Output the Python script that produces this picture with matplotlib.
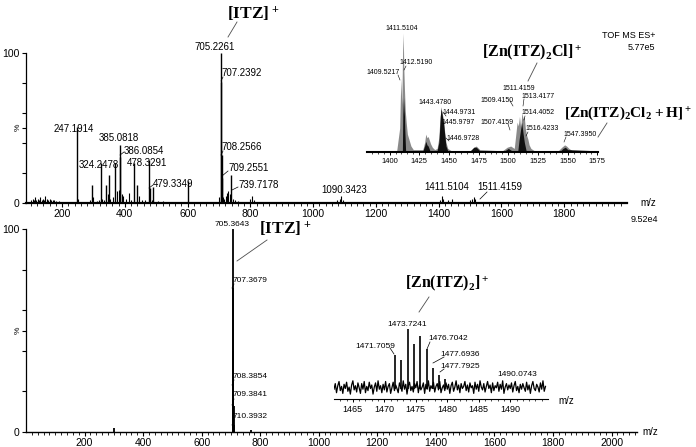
import numpy as np
import matplotlib
matplotlib.use('Agg')
import matplotlib.pyplot as plt
from matplotlib.lines import Line2D

plt.rcParams['font.family'] = ['Liberation Sans', 'DejaVu Sans']
plt.rcParams['mathtext.fontset'] = 'custom'
plt.rcParams['mathtext.rm'] = 'Liberation Serif'
plt.rcParams['mathtext.bf'] = 'Liberation Serif:bold'

# ---- top spectrum (sticks, m/z and % intensity)
top_mz = [247.19, 296, 324.25, 340, 350, 367, 385.08, 386.09, 430, 440, 478.33, 479.33,
          491, 600, 705.23, 707.24, 708.26, 709.26, 739.72]
top_int = [51, 12, 27, 12, 19, 27, 39, 31, 27, 12, 29, 10, 11, 15, 100, 81, 32, 17, 19]
grass_mz = [102, 106, 110, 114, 118, 122, 127, 131, 135, 139, 143, 147, 151, 155, 160, 165,
            170, 175, 182, 190, 198, 206, 214, 222, 230, 238, 250, 256, 262, 270, 280, 290,
            300, 310, 318, 328, 334, 345, 352, 362, 375, 380, 390, 395, 405, 412, 420, 445,
            455, 465, 485, 505, 520, 540, 560, 580, 610, 640, 660, 690, 700, 712, 716, 722,
            726, 730, 734, 744, 750, 760, 780, 800, 805, 812, 830, 860, 900, 950, 1000, 1050,
            1075, 1085, 1090, 1095, 1110, 1150, 1200, 1250, 1300, 1350, 1405, 1411, 1415,
            1430, 1443, 1450, 1500, 1507, 1511, 1515, 1520, 1550, 1600, 1650, 1700, 1790,
            1850, 1900, 1950]
grass_int = [2, 3, 2, 4, 2, 3, 2, 4, 2, 3, 2, 5, 3, 2, 3, 2,
             2, 2, 1.5, 1.5, 1, 1, 1, 1, 1, 1, 3, 1, 1, 1, 1, 2,
             4, 1.5, 2, 3, 2, 6, 3, 4, 8, 9, 6, 5, 3, 7, 2, 5,
             2, 2, 2, 1.5, 1.5, 1, 1, 1, 1, 1, 1, 1, 4, 4, 3, 5,
             7, 8, 6, 3, 2, 1.5, 1, 3, 5, 2, 1, 1, 1, 1, 1, 1,
             2, 3, 5, 2, 1, 1, 1, 1, 1, 1, 2, 5, 3,
             2, 3, 1, 2, 3, 4, 3, 1, 1, 1, 1, 1, 1,
             1, 1, 1]

# ---- top inset profile (gray = measured, black = second trace)
gray_mz = [1381, 1406, 1408.5, 1409.5, 1410.3, 1411.0, 1411.5, 1412.0, 1412.5, 1413.2,
           1414, 1415, 1416.5, 1418, 1420, 1428, 1429.5, 1430.5, 1431.5, 1432.5,
           1433.5, 1434.5, 1436, 1438, 1440, 1441.5, 1442.5, 1443.5, 1444.5, 1445.5,
           1446.5, 1447.5, 1449, 1452, 1468, 1471, 1473, 1476, 1495, 1499,
           1502, 1505, 1507.4, 1508.4, 1509.4, 1510.4, 1511.4, 1512.4, 1513.4, 1514.4,
           1515.4, 1516.4, 1517.5, 1519, 1522, 1542, 1545, 1547.4, 1549, 1551,
           1554, 1575]
gray_int = [1, 1, 20, 62, 40, 85, 100, 70, 54, 35,
            25, 15, 10, 5, 2, 2, 8, 15, 12, 13,
            10, 7, 4, 2, 3, 12, 30, 36, 32, 26,
            16, 8, 3, 1, 1, 4, 5, 2, 1, 4,
            5, 3, 25, 22, 30, 20, 33, 28, 30, 19,
            14, 11, 6, 3, 1, 1, 4, 6, 5, 3,
            1, 1]
black_mz = [1381, 1410.8, 1411.3, 1411.8, 1412.3, 1412.8, 1413.5, 1428, 1429.5, 1430.5,
            1431.5, 1432.5, 1434, 1440, 1441.5, 1442.5, 1443.3, 1443.8, 1444.5, 1445.5,
            1446.5, 1447.5, 1449, 1468, 1471, 1473, 1476, 1497, 1500, 1503,
            1508, 1509, 1510.5, 1511.2, 1511.6, 1512.5, 1513.5, 1515, 1544, 1546,
            1548, 1550, 1575]
black_int = [1, 1, 45, 30, 46, 20, 1, 1, 5, 9,
             6, 5, 1, 1, 8, 25, 38, 34, 30, 24,
             14, 5, 1, 1, 4, 4, 1, 1, 3, 1,
             1, 10, 20, 25, 22, 15, 8, 1, 1, 3,
             4, 2, 1]

# ---- bottom spectrum
bot_mz = [300, 705.36, 706.37, 707.37, 708.39, 709.38, 710.39, 770]
bot_int = [2, 100, 40, 71, 23, 13, 3.5, 1]

# ---- bottom inset: noise trace every 0.2 from 1462 and isotope peaks
noise_start, noise_step = 1462, 0.2
noise = [14, 22, 9, 19, 25, 12, 18, 8, 21, 15, 24, 11, 17, 7, 20, 26, 13, 19, 10, 23,
         16, 8, 22, 14, 25, 9, 18, 12, 24, 15, 20, 7, 17, 23, 11, 26, 14, 19, 9, 21,
         13, 25, 10, 18, 22, 8, 16, 24, 12, 20, 15, 9, 23, 17, 11, 26, 14, 21, 7, 19,
         24, 12, 18, 10, 22, 16, 25, 9, 20, 13, 17, 23, 8, 21, 14, 26, 11, 19, 15, 24,
         10, 18, 22, 13, 25, 9, 16, 20, 12, 23, 14, 21, 8, 19, 24, 11, 17, 26, 13, 20,
         9, 22, 15, 18, 25, 12, 20, 10, 23, 16, 19, 8, 24, 14, 21, 11, 26, 17, 13, 22,
         10, 18, 25, 15, 20, 9, 23, 12, 19, 16, 24, 11, 21, 14, 26, 8, 17, 22, 13, 20,
         15, 23, 10, 19, 25, 12, 18, 9, 21, 14, 22, 16, 11, 24, 13, 20, 8, 19, 25, 15,
         12, 21, 17, 10, 23, 14, 26, 11, 18]
iso_mz = [1471.71, 1472.71, 1473.72, 1474.72, 1475.71, 1476.70, 1477.69, 1478.70, 1479.70]
iso_int = [63, 56, 100, 79, 90, 71, 44, 34, 28]

W, H = 696, 447


def rect(l, t, r, b):
    return [l / W, 1 - b / H, (r - l) / W, (b - t) / H]


def ftext(x, y, s, **kw):
    fig.text(x / W, 1 - y / H, s, **kw)


def lead(x0, y0, x1, y1, c='0.3', lw=0.6):
    fig.add_artist(Line2D([x0 / W, x1 / W], [1 - y0 / H, 1 - y1 / H],
                          transform=fig.transFigure, color=c, lw=lw))


def style(ax, fs=7.5):
    for s in ['top', 'right']:
        ax.spines[s].set_visible(False)
    ax.tick_params(axis='both', direction='out', labelsize=fs, length=3, width=0.8, pad=1.5)
    ax.tick_params(which='minor', direction='out', length=1.8, width=0.6)


fig = plt.figure(figsize=(6.96, 4.47), dpi=100)

# top main panel
ax1 = fig.add_axes(rect(26, 53, 627, 203))
ax1.vlines(grass_mz, 0, grass_int, color='black', lw=0.8)
ax1.vlines(top_mz, 0, top_int, color='black', lw=1.0)
ax1.set_xlim(85, 2000)
ax1.set_ylim(0, 100)
style(ax1)
ax1.set_xticks(range(200, 2000, 200))
ax1.set_xticks(range(100, 2000, 20), minor=True)
ax1.set_yticks([0, 20, 40, 50, 60, 80, 100])
ax1.set_yticklabels(['0', '', '', '', '', '', '100'])
ax1.spines['bottom'].set_linewidth(1.6)
ax1.spines['left'].set_linewidth(0.9)

# bottom main panel
ax2 = fig.add_axes(rect(26, 229, 637, 432))
ax2.vlines(bot_mz, 0, bot_int, color='black', lw=1.3)
ax2.set_xlim(0, 2087)
ax2.set_ylim(0, 100)
style(ax2)
ax2.set_xticks(range(200, 2001, 200))
ax2.set_xticks(range(20, 2087, 20), minor=True)
ax2.set_yticks([0, 20, 40, 50, 60, 80, 100])
ax2.set_yticklabels(['0', '', '', '', '', '', '100'])
ax2.spines['bottom'].set_linewidth(1.0)
ax2.spines['left'].set_linewidth(0.9)

# top inset
ax3 = fig.add_axes(rect(367, 33, 598, 152))
ax3.fill_between(gray_mz, 0, gray_int, color='#8a8a8a', lw=0)
ax3.fill_between(black_mz, 0, black_int, color='#111111', lw=0)
ax3.set_xlim(1381, 1575.5)
ax3.set_ylim(0, 100)
ax3.patch.set_alpha(0)
for s in ['top', 'right', 'left']:
    ax3.spines[s].set_visible(False)
ax3.spines['bottom'].set_linewidth(1.5)
ax3.set_yticks([])
ax3.set_xticks(range(1400, 1576, 25))
ax3.set_xticks(range(1385, 1576, 5), minor=True)
ax3.tick_params(axis='x', direction='out', labelsize=5.5, length=2.5, width=0.7, pad=1.5)
ax3.tick_params(which='minor', direction='out', length=1.5, width=0.5)

# bottom inset
ax4 = fig.add_axes(rect(334, 329, 548, 399))
nmz = noise_start + noise_step * np.arange(len(noise))
ax4.plot(nmz, noise, color='black', lw=0.9)
ax4.vlines(iso_mz, 14, iso_int, color='black', lw=1.2)
ax4.set_xlim(1462, 1496)
ax4.set_ylim(0, 100)
ax4.patch.set_alpha(0)
for s in ['top', 'right', 'left']:
    ax4.spines[s].set_visible(False)
ax4.spines['bottom'].set_linewidth(0.8)
ax4.set_yticks([])
ax4.set_xticks(range(1465, 1491, 5))
ax4.set_xticks(range(1463, 1496, 1), minor=True)
ax4.tick_params(axis='x', direction='out', labelsize=6.5, length=2.5, width=0.7, pad=1.5)
ax4.tick_params(which='minor', direction='out', length=1.5, width=0.5)

# axis side texts
ftext(18, 127, '%', fontsize=6, rotation=90, ha='center', va='center')
ftext(18, 330, '%', fontsize=6, rotation=90, ha='center', va='center')
ftext(640, 203, 'm/z', fontsize=7, ha='left', va='center')
ftext(642, 432, 'm/z', fontsize=7, ha='left', va='center')
ftext(558, 401, 'm/z', fontsize=7, ha='left', va='center')
ftext(655, 36, 'TOF MS ES+', fontsize=6.5, ha='right', va='center')
ftext(655, 47, '5.77e5', fontsize=6.5, ha='right', va='center')
ftext(658, 220, '9.52e4', fontsize=6.5, ha='right', va='center')

# species labels
ftext(253, 14, r'$\mathbf{[ITZ]^+}$', fontsize=12.5, ha='center', va='center')
lead(237, 22, 228, 37)
ftext(285, 229, r'$\mathbf{[ITZ]^+}$', fontsize=12.5, ha='center', va='center')
lead(267, 240, 237, 261)
ftext(532, 52, r'$\mathbf{[Zn(ITZ)_2Cl]^+}$', fontsize=11.5, ha='center', va='center')
lead(537, 63, 528, 81)
ftext(628, 113, r'$\mathbf{[Zn(ITZ)_2Cl_2+H]^+}$', fontsize=11, ha='center', va='center')
lead(607, 123, 598, 137)
ftext(447, 283, r'$\mathbf{[Zn(ITZ)_2]^+}$', fontsize=11.5, ha='center', va='center')
lead(429, 297, 419, 312)

# top main peak labels
pk = dict(fontsize=7, va='center')
ftext(215, 47, '705.2261', ha='center', **pk)
ftext(221, 73, '707.2392', ha='left', **pk)
lead(221, 81, 223, 77, c='black', lw=0.5)
ftext(221, 147, '708.2566', ha='left', **pk)
lead(221, 155, 223, 151, c='black', lw=0.5)
ftext(228, 168, '709.2551', ha='left', **pk)
lead(222, 176, 228, 171, c='black', lw=0.5)
ftext(238, 185, '739.7178', ha='left', **pk)
lead(232, 190, 238, 187, c='black', lw=0.5)
ftext(74, 129, '247.1914', ha='center', **pk)
ftext(119, 138, '385.0818', ha='center', **pk)
ftext(124, 151, '386.0854', ha='left', **pk)
lead(120, 155, 124, 152, c='black', lw=0.5)
ftext(99, 165, '324.2478', ha='center', **pk)
ftext(147, 163, '478.3291', ha='center', **pk)
ftext(153, 184, '479.3349', ha='left', **pk)
lead(149, 188, 153, 185, c='black', lw=0.5)
ftext(344, 190, '1090.3423', ha='center', **pk)
ftext(447, 187, '1411.5104', ha='center', **pk)
ftext(500, 187, '1511.4159', ha='center', **pk)
lead(480, 199, 487, 192, c='black', lw=0.5)

# bottom main peak labels
pb = dict(fontsize=6, va='center')
ftext(232, 224, '705.3643', ha='center', **pb)
ftext(233, 280, '707.3679', ha='left', **pb)
lead(232, 288, 234, 284, c='black', lw=0.5)
ftext(233, 376, '708.3854', ha='left', **pb)
lead(232, 385, 234, 380, c='black', lw=0.5)
ftext(233, 395, '709.3841', ha='left', **pb)
lead(232, 405, 234, 399, c='black', lw=0.5)
ftext(233, 416, '710.3932', ha='left', **pb)
lead(232, 425, 234, 420, c='black', lw=0.5)

# top inset peak labels
pi = dict(fontsize=5, ha='center', va='center')
ftext(402, 29, '1411.5104', **pi)
ftext(383, 72, '1409.5217', **pi)
lead(398, 75, 400, 80, c='black', lw=0.4)
ftext(416, 63, '1412.5190', **pi)
lead(406, 66, 404, 70, c='black', lw=0.4)
ftext(435, 102, '1443.4780', **pi)
ftext(459, 113, '1444.9731', **pi)
lead(446, 116, 443, 112, c='black', lw=0.4)
ftext(458, 123, '1445.9797', **pi)
ftext(463, 138, '1446.9728', **pi)
lead(449, 141, 446, 138, c='black', lw=0.4)
ftext(519, 88, '1511.4159', **pi)
ftext(497, 101, '1509.4150', **pi)
lead(510, 101, 513, 106, c='black', lw=0.4)
ftext(538, 97, '1513.4177', **pi)
lead(524, 99, 523, 106, c='black', lw=0.4)
ftext(538, 113, '1514.4052', **pi)
lead(525, 116, 524, 120, c='black', lw=0.4)
ftext(497, 123, '1507.4159', **pi)
lead(508, 124, 510, 130, c='black', lw=0.4)
ftext(542, 129, '1516.4233', **pi)
lead(528, 132, 526, 136, c='black', lw=0.4)
ftext(580, 134, '1547.3950', **pi)
lead(566, 137, 564, 142, c='black', lw=0.4)

# bottom inset peak labels
pj = dict(fontsize=6, ha='center', va='center')
ftext(407, 325, '1473.7241', **pj)
ftext(375, 346, '1471.7059', **pj)
lead(390, 348, 394, 354, c='black', lw=0.5)
ftext(448, 339, '1476.7042', **pj)
lead(430, 342, 427, 349, c='black', lw=0.5)
ftext(460, 355, '1477.6936', **pj)
lead(444, 357, 433, 363, c='black', lw=0.5)
ftext(460, 367, '1477.7925', **pj)
lead(444, 369, 440, 372, c='black', lw=0.5)
ftext(517, 375, '1490.0743', **pj)

fig.savefig('out.png', dpi=100)
